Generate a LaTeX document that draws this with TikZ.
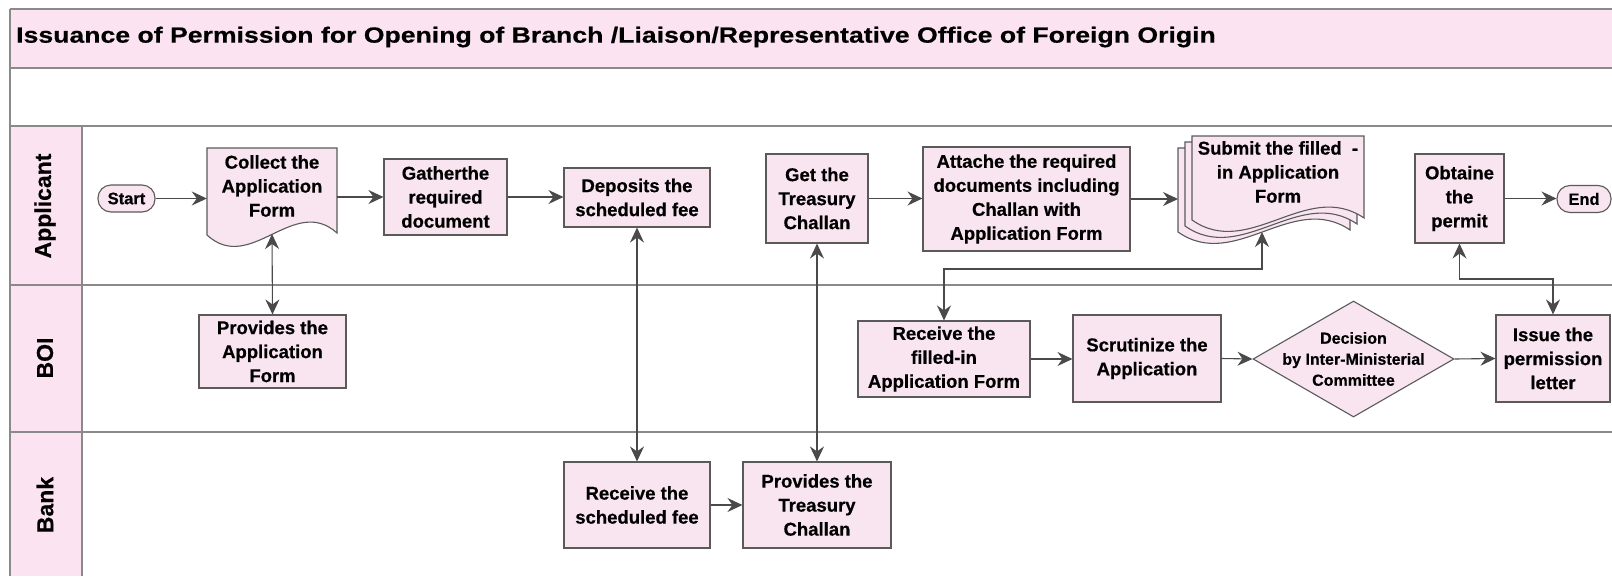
\documentclass[tikz,border=0pt]{standalone}
\usepackage{fontspec}
\setmainfont{Liberation Sans}[BoldFeatures={FakeBold=0.5}]
\newfontfamily\titlefam{Liberation Sans Bold}[FakeStretch=1.21,FakeBold=0.5]
\usetikzlibrary{arrows.meta,shapes.geometric}
\definecolor{pinkbg}{HTML}{FBE3F1}
\definecolor{boxfill}{HTML}{F9E5F0}
\definecolor{lanecol}{HTML}{8A8A8A}
\definecolor{boxline}{HTML}{5A5A5A}
\definecolor{conncol}{HTML}{4A4A4A}
\newcommand\nodefnt{\fontsize{18.5}{24}\selectfont\bfseries}
\newcommand\decfnt{\fontsize{16}{21}\selectfont\bfseries}
\begin{document}
\begin{tikzpicture}[x=1pt,y=-1pt,
  lane/.style={draw=lanecol,line width=1.6pt},
  box/.style={draw=boxline,fill=boxfill,line width=1.1pt,align=center,inner sep=2pt,font=\nodefnt},
  txt/.style={align=center,inner sep=0pt,font=\nodefnt},
  docline/.style={draw=boxline,fill=boxfill,line width=1.1pt},
  term/.style={box,rounded corners=13pt,minimum height=27pt},
  tip/.tip={Stealth[length=15pt,width=14pt,inset=5pt]},
  conn/.style={draw=conncol,line width=1.1pt,-tip},
  biconn/.style={draw=conncol,line width=1.1pt,tip-tip},
  lanelabel/.style={rotate=90,font=\fontsize{23}{26}\selectfont\bfseries},
]
\useasboundingbox (0,0) rectangle (1612,576);
\fill[white] (0,0) rectangle (1612,576);
% bands
\fill[pinkbg] (10,9) rectangle (1612,68);
\fill[pinkbg] (10,126) rectangle (82,576);
\draw[lane] (10,9) -- (1612,9);
\draw[lane] (10,68) -- (1612,68);
\draw[lane] (10,126) -- (1612,126);
\draw[lane] (10,285) -- (1612,285);
\draw[lane] (10,432) -- (1612,432);
\draw[lane] (10,9) -- (10,576);
\draw[lane] (82,126) -- (82,576);
\node[anchor=west,inner sep=0pt,font=\titlefam\fontsize{22}{26}\selectfont] (title) at (16,37)
  {Issuance of Permission for Opening of Branch /Liaison/Representative Office of Foreign Origin};
\node[lanelabel] (lapp) at (45,206) {Applicant};
\node[lanelabel] (lboi) at (45,358) {BOI};
\node[lanelabel] (lbank) at (45,505) {Bank};

% document shapes
\draw[docline] (207,148) -- (337,148) -- (337,233) .. controls (293.7,194) and (250.3,275) .. (207,235) -- cycle;
\draw[docline] (1178,148) -- (1350,148) -- (1350,230) .. controls (1292.7,191) and (1235.3,272) .. (1178,232) -- cycle;
\draw[docline] (1185,142) -- (1357,142) -- (1357,224) .. controls (1299.7,185) and (1242.3,266) .. (1185,226) -- cycle;
\draw[docline] (1192,136) -- (1364,136) -- (1364,218) .. controls (1306.7,179) and (1249.3,260) .. (1192,220) -- cycle;

% Applicant lane
\node[term,minimum width=57pt] (start) at (126.5,198.5) {\fontsize{16.5}{18}\selectfont\bfseries Start};
\node[txt,minimum width=130pt] (collect) at (272,186) {Collect the\\Application\\Form};
\coordinate (collectb) at (272,234);
\node[box,minimum width=123pt,minimum height=76pt] (gather) at (445.5,197) {Gatherthe\\required\\document};
\node[box,minimum width=146pt,minimum height=59pt] (deposit) at (637,197.5) {Deposits the\\scheduled fee};
\node[box,minimum width=102pt,minimum height=89pt] (gettreas) at (817,198.5) {Get the\\Treasury\\Challan};
\node[box,minimum width=207pt,minimum height=104pt] (attache) at (1026.5,199) {Attache the required\\documents including\\Challan with\\Application Form};
\node[txt,minimum width=172pt] (submit) at (1278,172) {Submit the filled\ \ -\\in Application\\Form};
\coordinate (subL) at (1178,199);
\coordinate (subb) at (1262,232);
\node[box,minimum width=89pt,minimum height=89pt] (obtain) at (1459.5,198.5) {Obtaine\\the\\permit};
\node[term,minimum width=54pt] (end) at (1584,199) {\fontsize{16.5}{18}\selectfont\bfseries End};

% BOI lane
\node[box,minimum width=147pt,minimum height=73pt] (provapp) at (272.5,351.5) {Provides the\\Application\\Form};
\node[box,minimum width=172pt,minimum height=76pt] (recfilled) at (944,359) {Receive the\\filled-in\\Application Form};
\node[box,minimum width=148pt,minimum height=87pt] (scrut) at (1147,358.5) {Scrutinize the\\Application};
\node[diamond,draw=boxline,fill=boxfill,line width=1.1pt,minimum width=201pt,minimum height=116pt,inner sep=0pt] (dec) at (1353.5,359) {};
\node[txt,font=\decfnt] (dect) at (dec.center) {Decision\\by Inter-Ministerial\\Committee};
\node[box,minimum width=114pt,minimum height=87pt] (issue) at (1553,358.5) {Issue the\\permission\\letter};

% Bank lane
\node[box,minimum width=146pt,minimum height=86pt] (recfee) at (637,505) {Receive the\\scheduled fee};
\node[box,minimum width=148pt,minimum height=86pt] (provtreas) at (817,505) {Provides the\\Treasury\\Challan};

\coordinate (j1) at (1262,269);
\coordinate (j2) at (1459.5,279);

% connectors
\draw[conn] (start.east) -- (start.east -| collect.west);
\draw[conn] (gather.west -| collect.east) -- (gather.west);
\draw[conn] (gather.east) -- (deposit.west |- gather.east);
\draw[conn] (gettreas.east) -- (attache.west |- gettreas.east);
\draw[conn] (attache.east) -- (subL);
\draw[conn] (obtain.east) -- (end.west |- obtain.east);
\draw[biconn] (collectb) -- (provapp.north);
\draw[biconn] (deposit.south) -- (recfee.north);
\draw[biconn] (gettreas.south) -- (provtreas.north);
\draw[biconn] (subb) -- (j1) -| (recfilled.north);
\draw[conn] (recfilled.east) -- (scrut.west |- recfilled.east);
\draw[conn] (scrut.east) -- (dec.west);
\draw[conn] (dec.east) -- (issue.west);
\draw[biconn] (obtain.south) -- (j2) -| (issue.north);
\draw[conn] (recfee.east) -- (provtreas.west);
\end{tikzpicture}
\end{document}
